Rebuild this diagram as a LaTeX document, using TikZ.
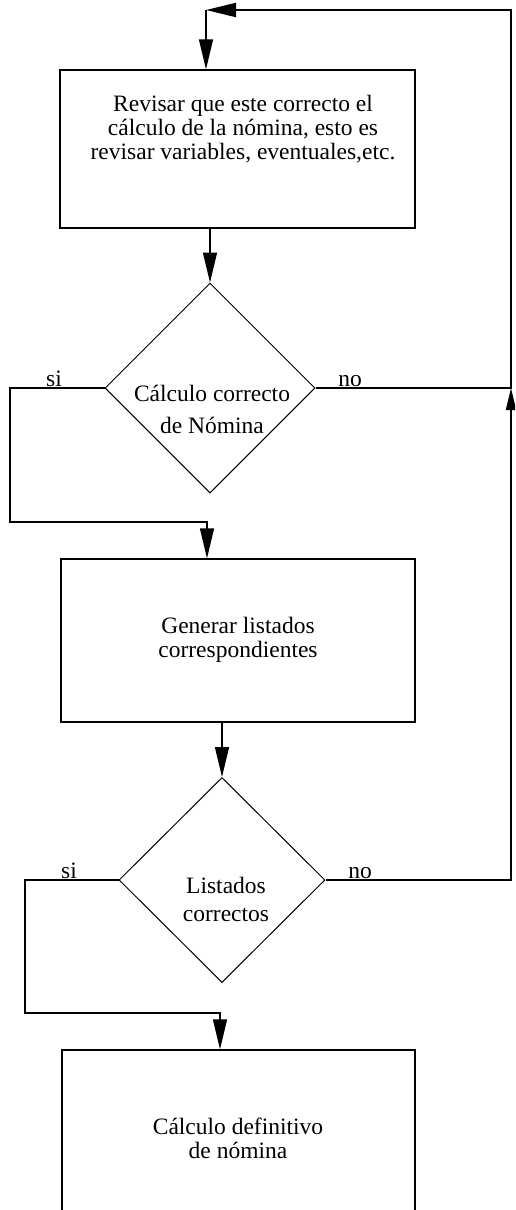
\documentclass[tikz,border=0pt]{standalone}
\usepackage{fontspec}
\setmainfont{Liberation Serif}
\usetikzlibrary{shapes.geometric,arrows.meta}
\begin{document}
\begin{tikzpicture}[x=1pt,y=-1pt,
  font=\fontsize{23.5}{24}\selectfont,
  box/.style={draw,line width=1.3pt,inner sep=0pt},
  dia/.style={draw,diamond,line width=1pt,inner sep=0pt,minimum width=210pt,minimum height=210pt},
  txt/.style={align=center,inner sep=0pt},
  lbl/.style={anchor=base,inner sep=0pt},
  ln/.style={line width=1.4pt},
  arr/.style={ln,-{Triangle[length=30pt,width=14pt]}},
  arrs/.style={line width=2pt,-{Triangle[length=22pt,width=10pt]}},
  loop/.style={line width=2pt,-{Triangle[length=30pt,width=14pt]}},
]
\clip (0,0) rectangle (515,1210);
% boxes
\node[box,minimum width=355pt,minimum height=158pt] (b1) at (237.5,149) {};
\node[txt] (t1) at (243,129) {Revisar que este correcto el\\cálculo de la nómina, esto es\\revisar variables, eventuales,etc.};
\node[box,minimum width=354pt,minimum height=163pt] (b2) at (238,640.5) {};
\node[txt] (t3) at (238,640) {Generar listados\\correspondientes};
\node[box,minimum width=353pt,minimum height=185pt] (b3) at (238.5,1142.5) {};
\node[txt] (t5) at (238,1138) {Cálculo definitivo\\de nómina};
% decisions
\node[dia] (d1) at (210,388) {};
\node[txt,font=\fontsize{23.5}{32}\selectfont] (t2) at (212,409) {Cálculo correcto\\de Nómina};
\node[dia,minimum width=206pt,minimum height=205pt] (d2) at (222,880) {};
\node[txt,font=\fontsize{23.5}{28}\selectfont] (t4) at (226,899) {Listados\\correctos};
% labels
\node[lbl] (si1) at (54,386) {si};
\node[lbl] (no1) at (350,386) {no};
\node[lbl] (si2) at (69,878) {si};
\node[lbl] (no2) at (360,878) {no};
% coordinates
\coordinate (rt) at (511,10);
\coordinate (tl) at (206,10);
\coordinate (r1) at (511,388);
\coordinate (r2) at (511,880);
\coordinate (s1c) at (10,522);
\coordinate (s1d) at (207,522);
\coordinate (s2c) at (25,1013);
\coordinate (s2d) at (220,1013);
% connectors
\draw[arr] (b1.south -| d1.north) -- (d1.north);
\draw[arr] (b2.south -| d2.north) -- (d2.north);
\draw[arr] (d1.west) -| (s1c) -- (s1d) -- (b2.north -| s1d);
\draw[arr] (d2.west) -| (s2c) -- (s2d) -- (b3.north -| s2d);
\draw[arrs] (d2.east) -- (r2) -- (r1);
\draw[loop] (d1.east) -- (r1) -- (rt) -- (tl);
\draw[arr] (tl) -- (b1.north -| tl);
\end{tikzpicture}
\end{document}
